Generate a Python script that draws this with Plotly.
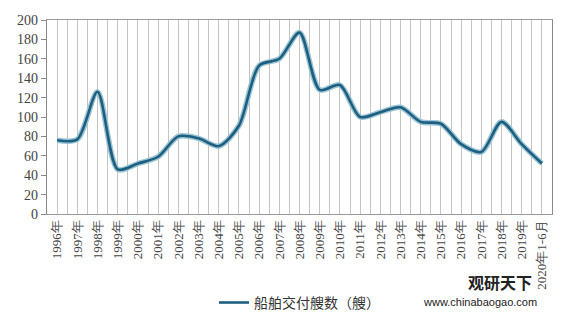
import plotly.graph_objects as go

years = ["1996年", "1997年", "1998年", "1999年", "2000年", "2001年", "2002年", "2003年",
         "2004年", "2005年", "2006年", "2007年", "2008年", "2009年", "2010年", "2011年",
         "2012年", "2013年", "2014年", "2015年", "2016年", "2017年", "2018年", "2019年",
         "2020年1-6月"]
deliveries = [76, 77, 126, 46, 52, 59, 80, 78, 70, 91, 153, 160, 187, 128, 133, 100,
              105, 110, 95, 93, 72, 64, 95, 72, 52]
y_ticks = list(range(0, 201, 20))
series_name = "船舶交付艘数（艘）"

xs = list(range(len(years)))
serif = "Liberation Serif"

fig = go.Figure()
# soft halo under the main line
fig.add_trace(go.Scatter(x=xs, y=deliveries, mode="lines",
                         line=dict(color="#9cc3d3", width=5.5, shape="spline", smoothing=0.8),
                         showlegend=False, hoverinfo="skip"))
fig.add_trace(go.Scatter(x=xs, y=deliveries, mode="lines", name=series_name,
                         line=dict(color="#1d5f80", width=2.6, shape="spline", smoothing=0.8)))

fig.update_layout(
    width=570, height=325,
    margin=dict(l=47, r=18, t=20, b=111, autoexpand=False),
    plot_bgcolor="white", paper_bgcolor="white",
    showlegend=True,
    legend=dict(orientation="h", x=0.5, xanchor="center", yref="container", y=0.068,
                yanchor="middle",
                font=dict(family="Noto Sans CJK SC", size=14, color="#333333")),
    xaxis=dict(range=[-0.5, len(years) - 0.5], tickmode="array", tickvals=xs, ticktext=years,
               tickangle=-90, tickfont=dict(family=serif, size=13, color="#444444"),
               automargin=False,
               showgrid=True, gridcolor="#c4c4c4", gridwidth=1.3,
               minor=dict(tickmode="array", tickvals=[i - 0.5 for i in range(len(years) + 1)],
                          showgrid=True, gridcolor="#c4c4c4", gridwidth=1.3),
               showline=True, linecolor="#999999", linewidth=1.3, mirror=True,
               zeroline=False, fixedrange=True),
    yaxis=dict(range=[0, 200], tickmode="array", tickvals=y_ticks, automargin=False,
               tickfont=dict(family=serif, size=14, color="#444444"),
               showgrid=False, showline=True, linecolor="#888888", linewidth=1.3, mirror=True,
               ticks="outside", ticklen=5, tickcolor="#888888", zeroline=False),
)

fig.add_annotation(text="<b>观研天下</b>", xref="paper", yref="paper", x=0.965, y=-0.352,
                   xanchor="right", yanchor="middle", showarrow=False,
                   font=dict(family="Noto Sans CJK SC", size=16, color="#222222"))
fig.add_annotation(text="www.chinabaogao.com", xref="paper", yref="paper", x=0.975, y=-0.452,
                   xanchor="right", yanchor="middle", showarrow=False,
                   font=dict(family="Liberation Sans", size=11, color="#222222"))

fig.write_html("out.html")
